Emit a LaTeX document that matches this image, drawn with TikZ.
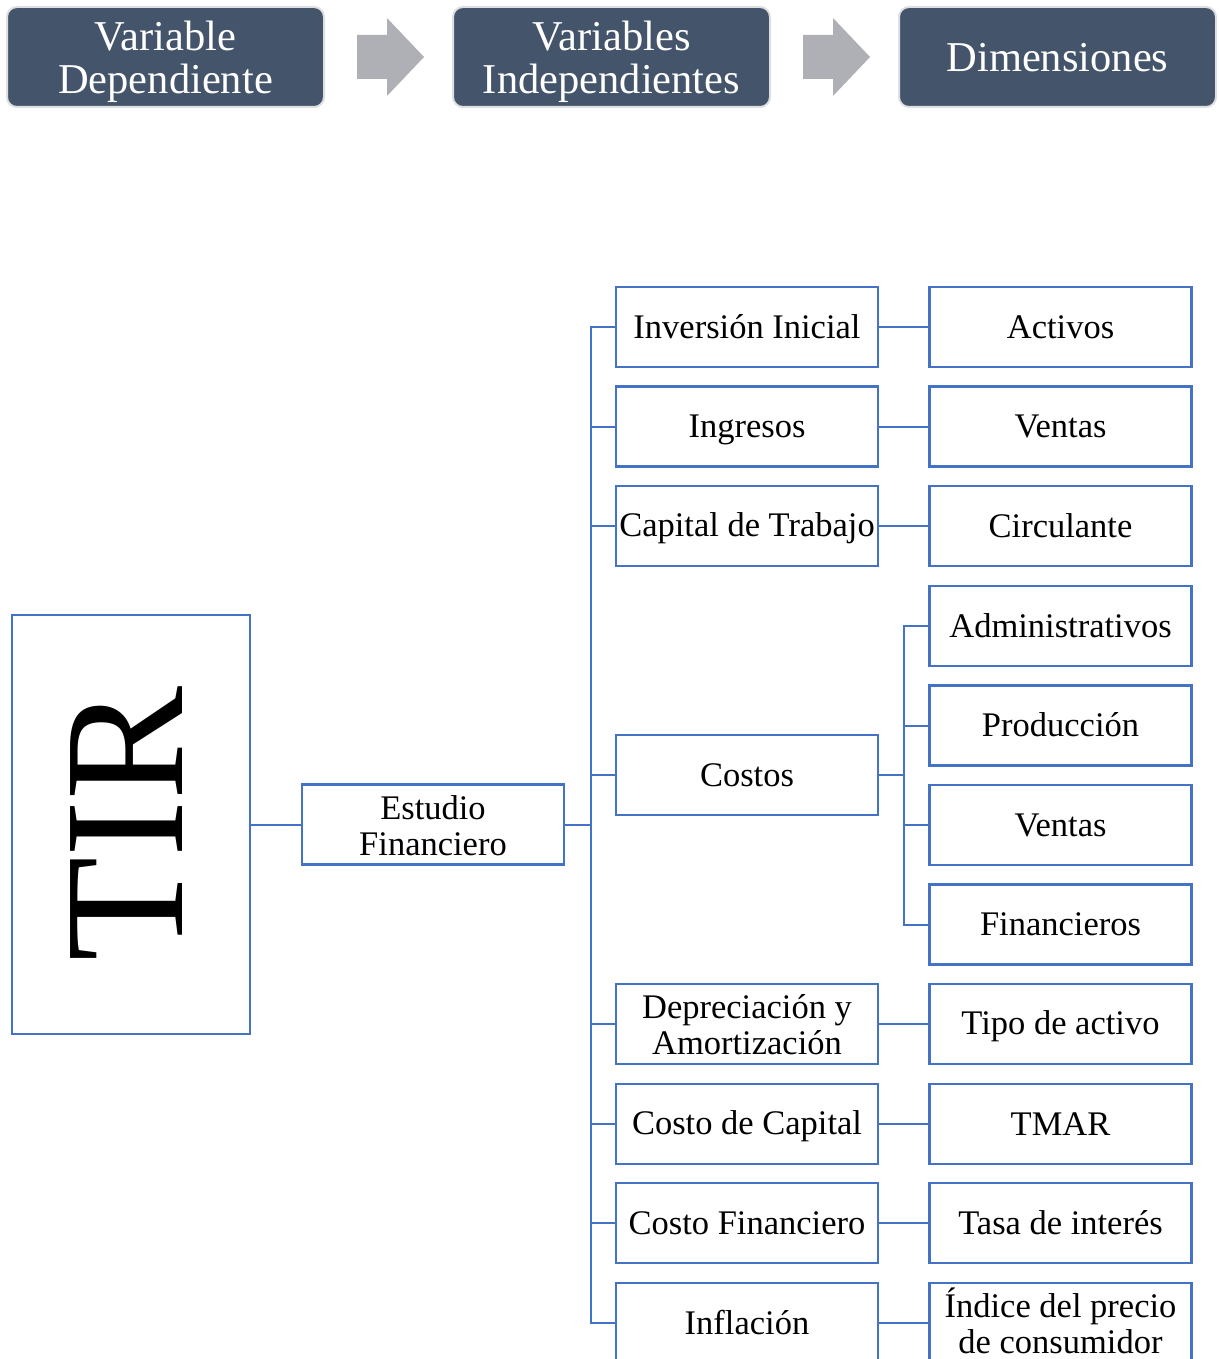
\documentclass[tikz,border=0pt]{standalone}
\usepackage{fontspec}
\setmainfont{Liberation Serif}
\definecolor{boxblue}{HTML}{4472C4}
\definecolor{hdrfill}{HTML}{44546A}
\definecolor{hdredge}{HTML}{DDDFE3}
\definecolor{arrowgrey}{HTML}{AEB0B5}
\newcommand{\boxfont}{\fontsize{34.5}{36}\selectfont}
\newcommand{\hdrfont}{\fontsize{42.5}{43}\selectfont}
% invisible rules that fix the vertical placement of each text line
\newcommand{\boxstrut}{\rule[-7pt]{0pt}{36pt}}
\newcommand{\hdrstrut}{\rule[-7pt]{0pt}{43pt}}
% taller first-line rules for two-line labels
\newcommand{\boxtop}{\rule{0pt}{32pt}}
\newcommand{\hdrtop}{\rule{0pt}{39pt}}
\begin{document}
\begin{tikzpicture}[x=1pt,y=-1pt,
  hdr/.style={fill=hdrfill, draw=hdredge, line width=2pt, rounded corners=10pt,
    minimum width=317pt, minimum height=100pt, inner sep=0pt, text=white,
    align=center, font=\hdrfont,
    execute at begin node=\hdrstrut, execute at end node=\hdrstrut},
  stepbox/.style={draw=boxblue, line width=2.2pt, minimum width=262pt,
    minimum height=80pt, inner sep=0pt, align=center, font=\boxfont,
    execute at begin node=\boxstrut, execute at end node=\boxstrut},
  conn/.style={draw=boxblue, line width=2pt}]
\useasboundingbox (0,0) rectangle (1218,1359);
\clip (0,0) rectangle (1218,1359);

% header row
\node[hdr] (h1) at (165.5,57) {\hdrtop Variable\\Dependiente};
\node[hdr] (h2) at (611.5,57) {\hdrtop Variables\\Independientes};
\node[hdr] (h3) at (1057.5,57) {Dimensiones};
\fill[arrowgrey] (357,35) -- (387,35) -- (387,18) -- (424,57) -- (387,96) -- (387,79) -- (357,79) -- cycle;
\fill[arrowgrey] (803,35) -- (833,35) -- (833,18) -- (870,57) -- (833,96) -- (833,79) -- (803,79) -- cycle;

% dependent variable
\node[draw=boxblue, line width=2.2pt, minimum width=238pt, minimum height=419pt,
  inner sep=0pt] (tir) at (131,824.5) {};
\node[rotate=90, font=\fontsize{171}{171}\selectfont, inner sep=0pt] (tirtxt) at (126.5,824) {TIR};

\node[stepbox] (est) at (433,824.5) {\boxtop Estudio\\Financiero};

% independent variables
\node[stepbox] (inv) at (747,327) {Inversión Inicial};
\node[stepbox] (ing) at (747,426.5) {Ingresos};
\node[stepbox] (cap) at (747,526) {Capital de Trabajo};
\node[stepbox] (cos) at (747,775) {Costos};
\node[stepbox] (dep) at (747,1024) {\boxtop Depreciación y\\Amortización};
\node[stepbox] (cca) at (747,1124) {Costo de Capital};
\node[stepbox] (cfi) at (747,1223) {Costo Financiero};
\node[stepbox] (inf) at (747,1323) {Inflación};

% dimensions
\node[stepbox] (act) at (1060.5,327) {Activos};
\node[stepbox] (ven) at (1060.5,426.5) {Ventas};
\node[stepbox] (cir) at (1060.5,526) {Circulante};
\node[stepbox] (adm) at (1060.5,626) {Administrativos};
\node[stepbox] (pro) at (1060.5,725.5) {Producción};
\node[stepbox] (vtc) at (1060.5,825) {Ventas};
\node[stepbox] (fin) at (1060.5,924.5) {Financieros};
\node[stepbox] (tip) at (1060.5,1024) {Tipo de activo};
\node[stepbox] (tma) at (1060.5,1124) {TMAR};
\node[stepbox] (tas) at (1060.5,1223) {Tasa de interés};
\node[stepbox] (ipc) at (1060.5,1323) {\boxtop Índice del precio\\de consumidor};

% connectors
\draw[conn] (tir.east) -- (est.west);
\foreach \b in {inv,ing,cap,cos,dep,cca,cfi,inf}
  \draw[conn] (est.east) -- ++(26,0) |- (\b.west);
\foreach \b in {adm,pro,vtc,fin}
  \draw[conn] (cos.east) -- ++(25,0) |- (\b.west);
\draw[conn] (inv.east) -- (act.west);
\draw[conn] (ing.east) -- (ven.west);
\draw[conn] (cap.east) -- (cir.west);
\draw[conn] (dep.east) -- (tip.west);
\draw[conn] (cca.east) -- (tma.west);
\draw[conn] (cfi.east) -- (tas.west);
\draw[conn] (inf.east) -- (ipc.west);
\end{tikzpicture}
\end{document}
